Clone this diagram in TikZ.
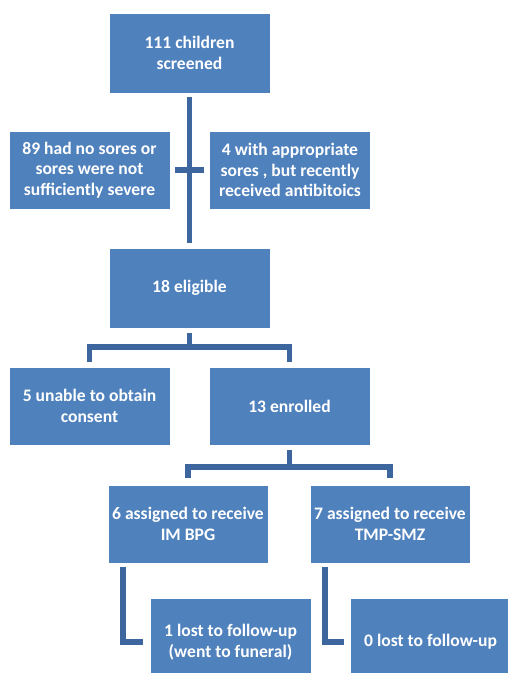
\documentclass[tikz,border=0pt]{standalone}
\usepackage{fontspec}
\setmainfont{Carlito}
\usepackage{tikz}
\usetikzlibrary{calc}
\definecolor{stagefill}{RGB}{79,129,189}
\definecolor{linkblue}{RGB}{62,102,158}

\begin{document}
\begin{tikzpicture}[
  x=0.03cm, y=-0.03cm,
  stage/.style={draw=white, line width=0.6pt, fill=stagefill, text=white,
    font=\bfseries\fontsize{15}{17.5}\selectfont, align=center, inner sep=0pt,
    minimum width=4.83cm, minimum height=2.34cm},
  link/.style={draw=linkblue, line width=5pt}
]
\useasboundingbox (0,0) rectangle (508,673);
\clip (0,0) rectangle (508,673);

% boxes
\node[stage, minimum height=2.4cm] (screened) at (189.5,53) {111 children\\screened};
\node[stage] (nosores) at (89.5,170) {89 had no sores or\\sores were not\\sufficiently severe};
\node[stage] (antibio) at (290,170) {4 with appropriate\\sores , but recently\\received antibitoics};
\node[stage, minimum height=2.4cm] (eligible) at (189.5,288) {18 eligible};
\node[stage] (noconsent) at (89.5,406) {5 unable to obtain\\consent};
\node[stage] (enrolled) at (289.5,406) {13 enrolled};
\node[stage, minimum width=4.8cm] (bpg) at (188,524) {6 assigned to receive\\IM BPG};
\node[stage, minimum width=4.8cm] (tmp) at (390,524) {7 assigned to receive\\TMP-SMZ};
\node[stage, minimum height=2.6cm] (lostbpg) at (230.5,642) {1 lost to follow-up\\(went to funeral)};
\node[stage, minimum height=2.6cm] (losttmp) at (430.5,642) {0 lost to follow-up};

\coordinate (split1) at (189.5,347);
\coordinate (split2) at (289.5,467);

% connectors
\draw[link, shorten <=3pt, shorten >=4pt] (screened.south) -- (eligible.north);
\draw[link, shorten <=4pt, shorten >=4pt] (nosores.east) -- (antibio.west);
\draw[link, shorten <=4pt] (eligible.south) -- (split1);
\draw[link, shorten <=4pt, shorten >=4pt] (noconsent.north) |- (split1) -| (enrolled.north);
\draw[link, shorten <=4pt] (enrolled.south) -- (split2);
\draw[link, shorten <=6pt, shorten >=6pt] (bpg.north) |- (split2) -| (tmp.north);
\draw[link, shorten >=6pt] ($(bpg.south west)+(15,4)$) |- (lostbpg.west);
\draw[link, shorten >=5pt] ($(tmp.south west)+(15,4)$) |- (losttmp.west);
\end{tikzpicture}
\end{document}
